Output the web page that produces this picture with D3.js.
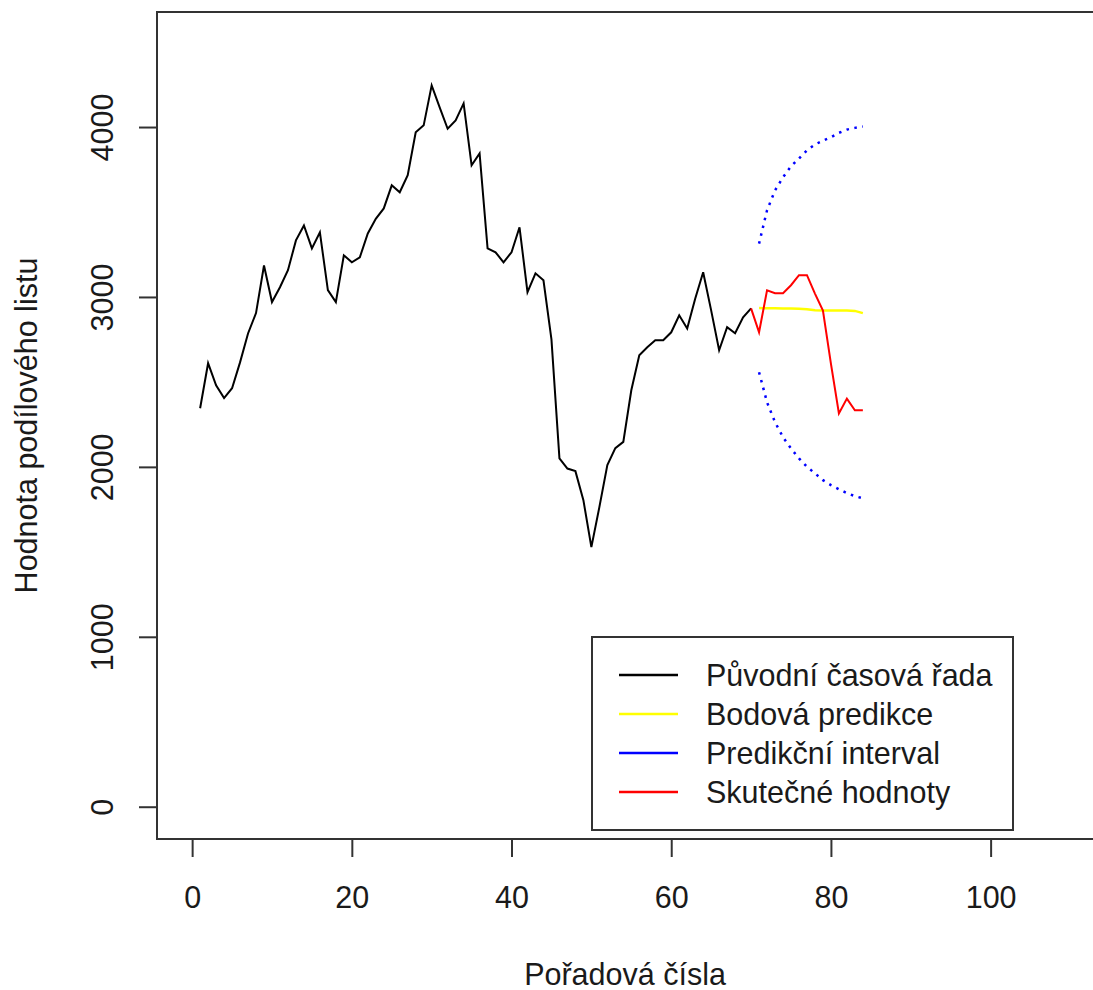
<!DOCTYPE html>
<html>
<head>
<meta charset="utf-8">
<script src="https://cdn.jsdelivr.net/npm/d3@7"></script>
<style>
    body { margin: 0; background: #fff; }
    svg { display: block; }
    text { font-family: "Liberation Sans", Arial, sans-serif; fill: #1a1a1a; }
</style>
</head>
<body>
<div id="chart"></div>
<script>
// original series, x = 1..70
const observed = [
    2345, 2610, 2480, 2405, 2463, 2615, 2785, 2905, 3185, 2970,
    3057, 3157, 3333, 3421, 3286, 3380, 3040, 2970, 3245, 3204,
    3233, 3374, 3460, 3521, 3657, 3616, 3716, 3969, 4010, 4245,
    4116, 3990, 4039, 4139, 3775, 3845, 3286, 3263, 3204, 3263,
    3410, 3028, 3139, 3098, 2750, 2050, 1990, 1975, 1804, 1528,
    1763, 2010, 2110, 2147, 2451, 2657, 2704, 2745, 2745, 2792,
    2892, 2814, 2990, 3145, 2921, 2686, 2822, 2786, 2880, 2933
];
const observedStart = 1;

// actual values, x = 70..84
const actual = [2933, 2792, 3039, 3022, 3022, 3069, 3128, 3128, 3020, 2920, 2608, 2314, 2402, 2333, 2333];
const actualStart = 70;

// forecast + interval, x = 71..84
const forecast = [2935, 2933, 2933, 2932, 2932, 2930, 2928, 2922, 2920, 2920, 2920, 2920, 2918, 2905];
const upper = [3314, 3510, 3627, 3704, 3769, 3815, 3863, 3897, 3920, 3940, 3966, 3985, 3995, 4003];
const lower = [2557, 2380, 2263, 2175, 2108, 2050, 2000, 1962, 1922, 1893, 1868, 1846, 1828, 1815];
const forecastStart = 71;

const xTicks = [0, 20, 40, 60, 80, 100];
const yTicks = [0, 1000, 2000, 3000, 4000];

const legendLabels = ['Původní časová řada', 'Bodová predikce', 'Predikční interval', 'Skutečné hodnoty'];
const legendColors = ['#000000', '#ffff00', '#0000ff', '#ff0000'];

const xTitle = 'Pořadová čísla';
const yTitle = 'Hodnota podílového listu';

const width = 1093, height = 990;
const box = {left: 157, top: 12, right: 1105.6, bottom: 839};
const fontSize = 30.5;

const svg = d3.select('#chart').append('svg')
    .attr('width', width)
    .attr('height', height);

const x = d3.scaleLinear().domain([-4.4, 114.4]).range([box.left, box.right]);
const y = d3.scaleLinear().domain([-190, 4677]).range([box.bottom, box.top]);

function toPoints(values, start) {
    return values.map((v, i) => [start + i, v]);
}

const line = d3.line()
    .x(d => x(d[0]))
    .y(d => y(d[1]));

// axes
const xAxis = svg.append('g')
    .attr('transform', `translate(0,${box.bottom})`)
    .call(d3.axisBottom(x).tickValues(xTicks).tickSize(18).tickFormat(d3.format('d')));
xAxis.select('.domain').remove();
xAxis.selectAll('line').attr('stroke', '#333').attr('stroke-width', 2);
xAxis.selectAll('text')
    .attr('y', 69)
    .attr('dy', null)
    .style('font-size', fontSize + 'px')
    .style('fill', '#1a1a1a');

const yAxis = svg.append('g')
    .attr('transform', `translate(${box.left},0)`)
    .call(d3.axisLeft(y).tickValues(yTicks).tickSize(18).tickFormat(d3.format('d')));
yAxis.select('.domain').remove();
yAxis.selectAll('line').attr('stroke', '#333').attr('stroke-width', 2);
yAxis.selectAll('text')
    .attr('x', null)
    .attr('dy', null)
    .attr('text-anchor', 'middle')
    .attr('transform', 'translate(-44,0) rotate(-90)')
    .style('font-size', fontSize + 'px')
    .style('fill', '#1a1a1a');

// plot box (right side runs off the picture)
svg.append('rect')
    .attr('x', box.left)
    .attr('y', box.top)
    .attr('width', box.right - box.left)
    .attr('height', box.bottom - box.top)
    .attr('fill', 'none')
    .attr('stroke', '#333')
    .attr('stroke-width', 2);

// series
svg.append('path')
    .datum(toPoints(observed, observedStart))
    .attr('d', line)
    .attr('fill', 'none')
    .attr('stroke', '#000')
    .attr('stroke-width', 2);

svg.append('path')
    .datum(toPoints(forecast, forecastStart))
    .attr('d', line)
    .attr('fill', 'none')
    .attr('stroke', legendColors[1])
    .attr('stroke-width', 2.5);

[upper, lower].forEach(series => {
    svg.append('path')
        .datum(toPoints(series, forecastStart))
        .attr('d', line)
        .attr('fill', 'none')
        .attr('stroke', legendColors[2])
        .attr('stroke-width', 2.5)
        .attr('stroke-dasharray', '2.5,5.5');
});

svg.append('path')
    .datum(toPoints(actual, actualStart))
    .attr('d', line)
    .attr('fill', 'none')
    .attr('stroke', legendColors[3])
    .attr('stroke-width', 2);

// titles
svg.append('text')
    .attr('x', 625)
    .attr('y', 985)
    .attr('text-anchor', 'middle')
    .style('font-size', fontSize + 'px')
    .text(xTitle);

svg.append('text')
    .attr('transform', `translate(37,${(box.top + box.bottom) / 2}) rotate(-90)`)
    .attr('text-anchor', 'middle')
    .style('font-size', fontSize + 'px')
    .text(yTitle);

// legend
const legend = svg.append('g');
legend.append('rect')
    .attr('x', 592)
    .attr('y', 637)
    .attr('width', 421)
    .attr('height', 193)
    .attr('fill', '#fff')
    .attr('stroke', '#333')
    .attr('stroke-width', 2);

const rows = legend.selectAll('.row')
    .data(legendLabels)
    .enter().append('g')
    .attr('class', 'row')
    .attr('transform', (d, i) => `translate(0,${675 + i * 39})`);

rows.append('line')
    .attr('x1', 619)
    .attr('x2', 678)
    .attr('stroke', (d, i) => legendColors[i])
    .attr('stroke-width', 2.5);

rows.append('text')
    .attr('x', 706)
    .attr('dy', '0.35em')
    .style('font-size', fontSize + 'px')
    .text(d => d);
</script>
</body>
</html>
